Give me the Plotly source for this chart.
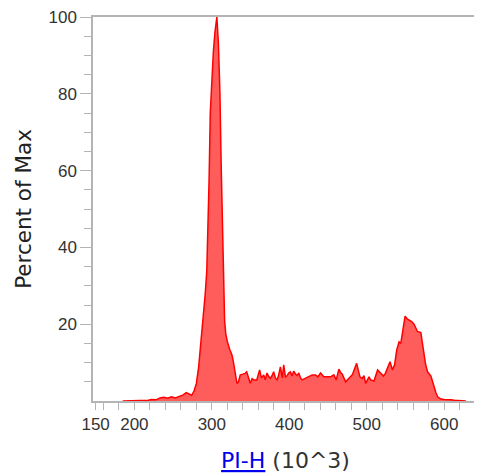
import plotly.graph_objects as go

# PI-H values (x10^3) and histogram height (% of max)
pi_h = [185, 200, 210, 218, 222, 228, 233, 238, 243, 248, 253, 258, 263, 267, 271, 274, 277, 280,
        283, 286, 289, 291.5, 293.5, 295, 296.5, 298, 300, 302, 304, 306.5, 308.5, 310.5, 312, 313.5,
        314.5, 315.5, 316.5, 318, 320, 323, 326, 328, 330, 332.4, 334.5, 336.7, 340, 343, 345, 347,
        349.6, 352, 354, 358, 361.7, 364, 367, 369, 371.2, 373, 375.5, 377.5, 379.8, 382, 384.2, 386,
        388.5, 391, 392.8, 395, 397, 399.2, 401.4, 403.5, 405.7, 408, 410.1, 412.2, 414.5, 416.6,
        420.9, 425, 429.5, 433.8, 436.8, 440.3, 444.6, 449, 453.2, 457.5, 460.6, 464, 466, 468.4,
        472.7, 477, 481.3, 486.9, 491.2, 494.3, 496.4, 498.6, 502.9, 505, 509.3, 514, 518, 521.5,
        524, 526.7, 530, 533.2, 536, 538.7, 541.7, 543.9, 546, 549.5, 552.6, 555, 558, 561, 563,
        565.5, 569.8, 572, 574.1, 576, 578.5, 582.8, 585, 587, 589.2, 591.5, 595.7, 600, 604.4, 609,
        613, 617.4, 622, 628]
pct_max = [0, 0.1, 0.1, 0.2, 0.4, 0.3, 0.8, 1.0, 0.7, 1.1, 0.8, 1.2, 1.6, 2.2, 1.8, 1.5, 2.6, 4.5,
           8.9, 15, 21, 28, 34, 45, 58, 75, 85, 91, 96, 100, 93, 80, 62, 48,
           38, 28, 21, 17.5, 15.5, 13.5, 12, 10, 7.5, 4.6, 5, 6.8, 7.0, 7.2, 7.6, 6.5,
           4.6, 5.8, 5.5, 5.5, 8.1, 6, 6.8, 5.5, 7.3, 6.5, 5.9, 6.5, 7.6, 6.0, 5.5, 6.5,
           8.9, 6.0, 9.4, 6.3, 6.5, 7.3, 7.6, 6.5, 7.8, 7.0, 6.6, 7.3, 6.0, 5.5,
           5.9, 6.3, 6.8, 6.8, 6.3, 7.3, 6.3, 6.3, 6.3, 6.8, 5.5, 8.3, 7.5, 7.0,
           5.0, 5.9, 6.8, 9.8, 6.3, 5.9, 6.6, 4.6, 6.3, 5.5, 5.2, 8.1, 7.2, 6.5,
           7.2, 8.5, 10.2, 8.1, 9.5, 13.3, 15.4, 15, 18, 22.1, 21.3, 21.0, 20.7, 20.0, 19.0,
           18.1, 17.8, 14.5, 12.0, 9.5, 7.6, 6.5, 5.0, 3.3, 2.2, 1.1, 0.5, 0.4, 0.4, 0.3,
           0.2, 0.1, 0.05, 0]

x_major = [150, 200, 300, 400, 500, 600]
x_major_labels = ["150", "200", "300", "400", "500", "600"]
x_minor = list(range(160, 641, 20))
y_major = [20, 40, 60, 80, 100]
y_minor = [v for v in range(5, 100, 5) if v % 20 != 0]

fig = go.Figure()
fig.add_trace(go.Scatter(
    x=pi_h, y=pct_max, mode="lines", fill="tozeroy",
    line=dict(color="#ff0000", width=1.5),
    fillcolor="rgba(255,0,0,0.64)",
    hoverinfo="skip", showlegend=False,
))

axis_col = "#b4b4b4"
tick_font = dict(family="Liberation Sans, Arial, sans-serif", size=17, color="#333333")

# page body adds an 8px offset, so the figure is sized to fit the 482x473 window
fig.update_layout(
    width=474, height=465,
    margin=dict(l=85, r=4, t=9, b=72, autoexpand=False),
    paper_bgcolor="white", plot_bgcolor="white",
    xaxis=dict(
        range=[146.6, 643.6], showgrid=False, zeroline=False, automargin=False,
        showline=True, linecolor=axis_col, linewidth=1.5, mirror=True,
        ticks="outside", ticklen=7, tickwidth=1, tickcolor=axis_col,
        tickmode="array", tickvals=x_major, ticktext=x_major_labels,
        tickfont=tick_font, ticklabeloverflow="allow",
        minor=dict(tickmode="array", tickvals=x_minor, ticks="outside", ticklen=7,
                   tickcolor=axis_col, tickwidth=1, showgrid=False),
        title=dict(
            text="<span style='color:#0000ee'><u>PI-H</u></span> (10^3)",
            font=dict(family="DejaVu Sans, Verdana, sans-serif", size=22, color="#333333"),
            standoff=20,
        ),
    ),
    yaxis=dict(
        range=[0, 100], showgrid=False, zeroline=False, automargin=False,
        showline=True, linecolor=axis_col, linewidth=1.5,
        ticks="outside", ticklen=11, tickwidth=1, tickcolor=axis_col,
        tickmode="array", tickvals=y_major, ticktext=[str(v) for v in y_major],
        tickfont=tick_font, ticklabeloverflow="allow",
        minor=dict(tickmode="array", tickvals=y_minor, ticks="outside", ticklen=7,
                   tickcolor=axis_col, tickwidth=1, showgrid=False),
        title=dict(
            text="Percent of Max",
            font=dict(family="DejaVu Sans, Verdana, sans-serif", size=21.5, color="#222222"),
            standoff=11,
        ),
    ),
)

fig.write_html("out.html")
